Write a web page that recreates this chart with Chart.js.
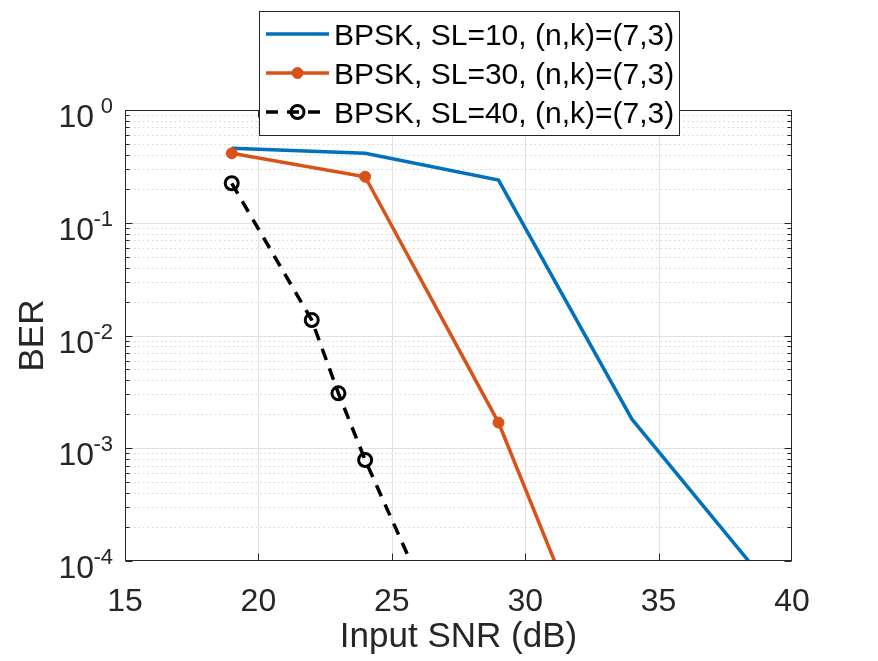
<!DOCTYPE html>
<html>
<head>
<meta charset="utf-8">
<script src="https://cdn.jsdelivr.net/npm/chart.js@4.4.0/dist/chart.umd.min.js"></script>
<style>
	html, body { margin: 0; padding: 0; background: #fff; overflow: hidden; }
</style>
</head>
<body>
<canvas id="berChart" width="878" height="661"></canvas>
<script>
// values
var seriesLabels = [
	'BPSK, SL=10, (n,k)=(7,3)',
	'BPSK, SL=30, (n,k)=(7,3)',
	'BPSK, SL=40, (n,k)=(7,3)'
];
var snrSL10 = [19, 24, 29, 34, 39];
var berSL10 = [0.457, 0.413, 0.239, 1.81e-3, 6.6e-5];
var snrSL30 = [19, 24, 29, 34];
var berSL30 = [0.413, 0.256, 1.69e-3, 2e-6];
var snrSL40 = [19, 22, 23, 24, 29];
var berSL40 = [0.224, 0.0137, 3.07e-3, 7.87e-4, 1.8e-6];
var xTickValues = [15, 20, 25, 30, 35, 40];
var yDecades = [0, -1, -2, -3, -4];

var FONT = '"Liberation Sans", Arial, Helvetica, sans-serif';
var AXIS_COLOR = '#262626';

var toPoints = function (xs, ys) {
	var pts = [];
	for (var i = 0; i < xs.length; i++) pts.push({x: xs[i], y: ys[i]});
	return pts;
};

// grid, box, inner ticks, superscript labels and the legend, matlab style
var matlabAxes = {
	id: 'matlabAxes',
	beforeDatasetsDraw: function (chart) {
		var ctx = chart.ctx, a = chart.chartArea, xs = chart.scales.x, ys = chart.scales.y;
		var i, m, y, x;
		ctx.save();
		ctx.lineWidth = 1;

		// minor y grid, dotted
		ctx.strokeStyle = '#d4d4d4';
		ctx.setLineDash([1.5, 3]);
		for (i = 1; i < yDecades.length; i++) {
			for (m = 2; m <= 9; m++) {
				y = Math.round(ys.getPixelForValue(m * Math.pow(10, yDecades[i]))) + 0.5;
				ctx.beginPath(); ctx.moveTo(a.left, y); ctx.lineTo(a.right, y); ctx.stroke();
			}
		}

		// major grid
		ctx.setLineDash([]);
		ctx.strokeStyle = '#e2e2e2';
		for (i = 1; i < xTickValues.length - 1; i++) {
			x = Math.round(xs.getPixelForValue(xTickValues[i])) + 0.5;
			ctx.beginPath(); ctx.moveTo(x, a.top); ctx.lineTo(x, a.bottom); ctx.stroke();
		}
		for (i = 1; i < yDecades.length - 1; i++) {
			y = Math.round(ys.getPixelForValue(Math.pow(10, yDecades[i]))) + 0.5;
			ctx.beginPath(); ctx.moveTo(a.left, y); ctx.lineTo(a.right, y); ctx.stroke();
		}
		ctx.restore();
	},
	afterDatasetsDraw: function (chart) {
		var ctx = chart.ctx, a = chart.chartArea, xs = chart.scales.x, ys = chart.scales.y;
		var i, m, x, y, L = Math.round(a.left) + 0.5, R = Math.round(a.right) - 0.5,
			T = Math.round(a.top) + 0.5, B = Math.round(a.bottom) - 0.5;
		ctx.save();

		// box
		ctx.strokeStyle = AXIS_COLOR;
		ctx.lineWidth = 1;
		ctx.strokeRect(L, T, R - L, B - T);

		// inner ticks
		ctx.beginPath();
		for (i = 1; i < xTickValues.length - 1; i++) {
			x = Math.round(xs.getPixelForValue(xTickValues[i])) + 0.5;
			ctx.moveTo(x, B); ctx.lineTo(x, B - 7);
			ctx.moveTo(x, T); ctx.lineTo(x, T + 7);
		}
		for (i = 0; i < yDecades.length; i++) {
			y = Math.round(ys.getPixelForValue(Math.pow(10, yDecades[i]))) + 0.5;
			ctx.moveTo(L, y); ctx.lineTo(L + 7, y);
			ctx.moveTo(R, y); ctx.lineTo(R - 7, y);
			if (i === 0) continue;
			for (m = 2; m <= 9; m++) {
				y = Math.round(ys.getPixelForValue(m * Math.pow(10, yDecades[i]))) + 0.5;
				ctx.moveTo(L, y); ctx.lineTo(L + 4, y);
				ctx.moveTo(R, y); ctx.lineTo(R - 4, y);
			}
		}
		ctx.stroke();

		// y labels 10^k
		ctx.fillStyle = AXIS_COLOR;
		ctx.textBaseline = 'alphabetic';
		for (i = 0; i < yDecades.length; i++) {
			y = ys.getPixelForValue(Math.pow(10, yDecades[i]));
			ctx.textAlign = 'right';
			ctx.font = '32px ' + FONT;
			ctx.fillText('10', a.left - 31, y + 17);
			ctx.font = '22px ' + FONT;
			ctx.fillText(String(yDecades[i]), a.left - 12, y + 3);
		}

		// legend
		var lx = 259.5, ly = 11.5, lw = 420, lh = 124;
		ctx.fillStyle = '#fff';
		ctx.fillRect(lx, ly, lw, lh);
		ctx.strokeStyle = AXIS_COLOR;
		ctx.lineWidth = 1;
		ctx.strokeRect(lx, ly, lw, lh);
		var rows = [34, 73, 112];
		chart.data.datasets.forEach(function (ds, k) {
			var ry = rows[k];
			ctx.save();
			ctx.strokeStyle = ds.borderColor;
			ctx.lineWidth = ds.borderWidth;
			ctx.setLineDash(ds.borderDash || []);
			ctx.beginPath(); ctx.moveTo(266, ry); ctx.lineTo(329, ry); ctx.stroke();
			ctx.setLineDash([]);
			if (ds.pointRadius > 0) {
				ctx.beginPath();
				ctx.arc(297.5, ry, ds.pointRadius, 0, Math.PI * 2);
				if (ds.pointBackgroundColor !== 'transparent') {
					ctx.fillStyle = ds.pointBackgroundColor;
					ctx.fill();
				}
				ctx.lineWidth = ds.pointBorderWidth;
				ctx.strokeStyle = ds.pointBorderColor;
				ctx.stroke();
			}
			ctx.restore();
			ctx.fillStyle = '#000';
			ctx.font = '30px ' + FONT;
			ctx.textAlign = 'left';
			ctx.textBaseline = 'alphabetic';
			ctx.fillText(ds.label, 334, ry + 11);
		});
		ctx.restore();
	}
};

var config = {
	type: 'line',
	data: {
		datasets: [
			{
				label: seriesLabels[0],
				data: toPoints(snrSL10, berSL10),
				borderColor: '#0072BD',
				borderWidth: 3.5,
				pointRadius: 0,
				order: 3,
				clip: 0
			},
			{
				label: seriesLabels[1],
				data: toPoints(snrSL30, berSL30),
				borderColor: '#D95319',
				borderWidth: 3.5,
				pointRadius: 5.5,
				pointBorderWidth: 1,
				pointBackgroundColor: '#D95319',
				pointBorderColor: '#D95319',
				order: 2,
				clip: 0
			},
			{
				label: seriesLabels[2],
				data: toPoints(snrSL40, berSL40),
				borderColor: '#000000',
				borderWidth: 3.5,
				borderDash: [12, 9],
				pointRadius: 6.5,
				pointBorderWidth: 3,
				pointBackgroundColor: 'transparent',
				pointBorderColor: '#000000',
				order: 1,
				clip: 0
			}
		]
	},
	options: {
		responsive: false,
		animation: false,
		devicePixelRatio: 1,
		layout: { padding: { left: 0, right: 86, top: 110, bottom: 0 } },
		plugins: {
			legend: { display: false },
			tooltip: { enabled: false }
		},
		scales: {
			x: {
				type: 'linear',
				min: 15,
				max: 40,
				afterBuildTicks: function (scale) {
					scale.ticks = xTickValues.map(function (v) { return {value: v}; });
				},
				afterFit: function (scale) { scale.height = 100; },
				grid: { display: false },
				border: { display: false },
				ticks: {
					color: AXIS_COLOR,
					padding: 17,
					maxRotation: 0,
					font: { family: FONT, size: 32, lineHeight: 1 }
				},
				title: {
					display: true,
					text: 'Input SNR (dB)',
					color: AXIS_COLOR,
					padding: { top: 0, bottom: 6 },
					font: { family: FONT, size: 35, lineHeight: 1 }
				}
			},
			y: {
				type: 'logarithmic',
				min: 1e-4,
				max: 1,
				afterFit: function (scale) { scale.width = 125; },
				grid: { display: false },
				border: { display: false },
				ticks: { display: false },
				title: {
					display: true,
					text: 'BER',
					color: AXIS_COLOR,
					padding: { top: 16, bottom: 0 },
					font: { family: FONT, size: 35, lineHeight: 1 }
				}
			}
		}
	},
	plugins: [matlabAxes]
};

var berChart = new Chart(document.getElementById('berChart'), config);
</script>
</body>
</html>
